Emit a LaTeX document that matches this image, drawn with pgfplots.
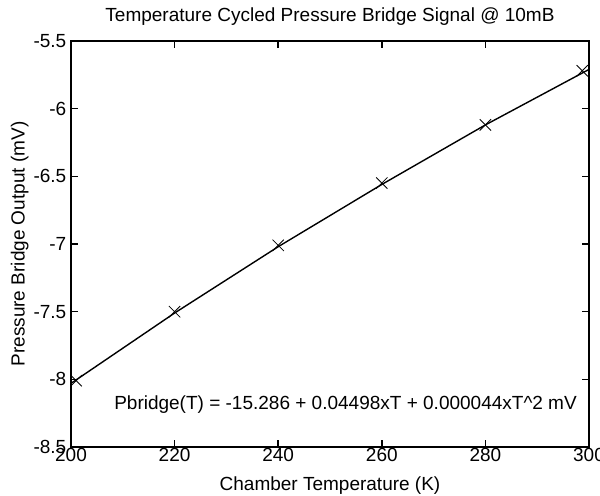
\documentclass[border=0pt]{standalone}
\usepackage{pgfplots}
\pgfplotsset{compat=1.18}
\usepackage{fontspec}
\setmainfont{Liberation Sans}
\newcommand\fs{\fontsize{9.5}{11}\selectfont}
\begin{document}
\fs
\begin{tikzpicture}
\useasboundingbox (-35.5pt,-24pt) rectangle (264.5pt,223.5pt);
\begin{axis}[
  at={(0,0)}, anchor=south west,
  scale only axis, width=259pt, height=203pt,
  xmin=200, xmax=300, ymin=-8.5, ymax=-5.5,
  xtick={200,220,...,300},
  ytick={-8.5,-8,-7.5,-7,-6.5,-6,-5.5},
  yticklabels={-8.5,-8,-7.5,-7,-6.5,-6,-5.5},
  xticklabels={200,220,240,260,280,300},
  tick align=inside,
  tick pos=both,
  major tick length=3.5pt,
  major tick style={draw=black, line width=0.8pt},
  axis line style={line width=0.7pt},
  tick label style={font=\fs},
  xticklabel style={yshift=3pt},
  yticklabel style={xshift=1pt},
  label style={font=\fs},
  title style={font=\fs, yshift=-1.5pt},
  title={Temperature Cycled Pressure Bridge Signal @ 10mB},
  xlabel={Chamber Temperature (K)},
  ylabel={Pressure Bridge Output (mV)},
  xlabel style={yshift=-1pt},
  ylabel style={yshift=-4pt},
  clip=false,
]
\addplot[black, line width=0.7pt] coordinates {
  (200,-8.03) (220,-7.51) (240,-7.02) (260,-6.56) (280,-6.12) (300,-5.71)
};
\addplot[black, only marks, mark=x, mark size=4pt, mark options={line width=0.4pt}] coordinates {
  (201,-8.01) (220,-7.50) (240,-7.01) (260,-6.55) (280,-6.12) (298.7,-5.72)
};
\node[font=\fs] at (axis cs:253,-8.19) {Pbridge(T) = -15.286 + 0.04498xT + 0.000044xT\^{}2 mV};
\end{axis}
\end{tikzpicture}
\end{document}
